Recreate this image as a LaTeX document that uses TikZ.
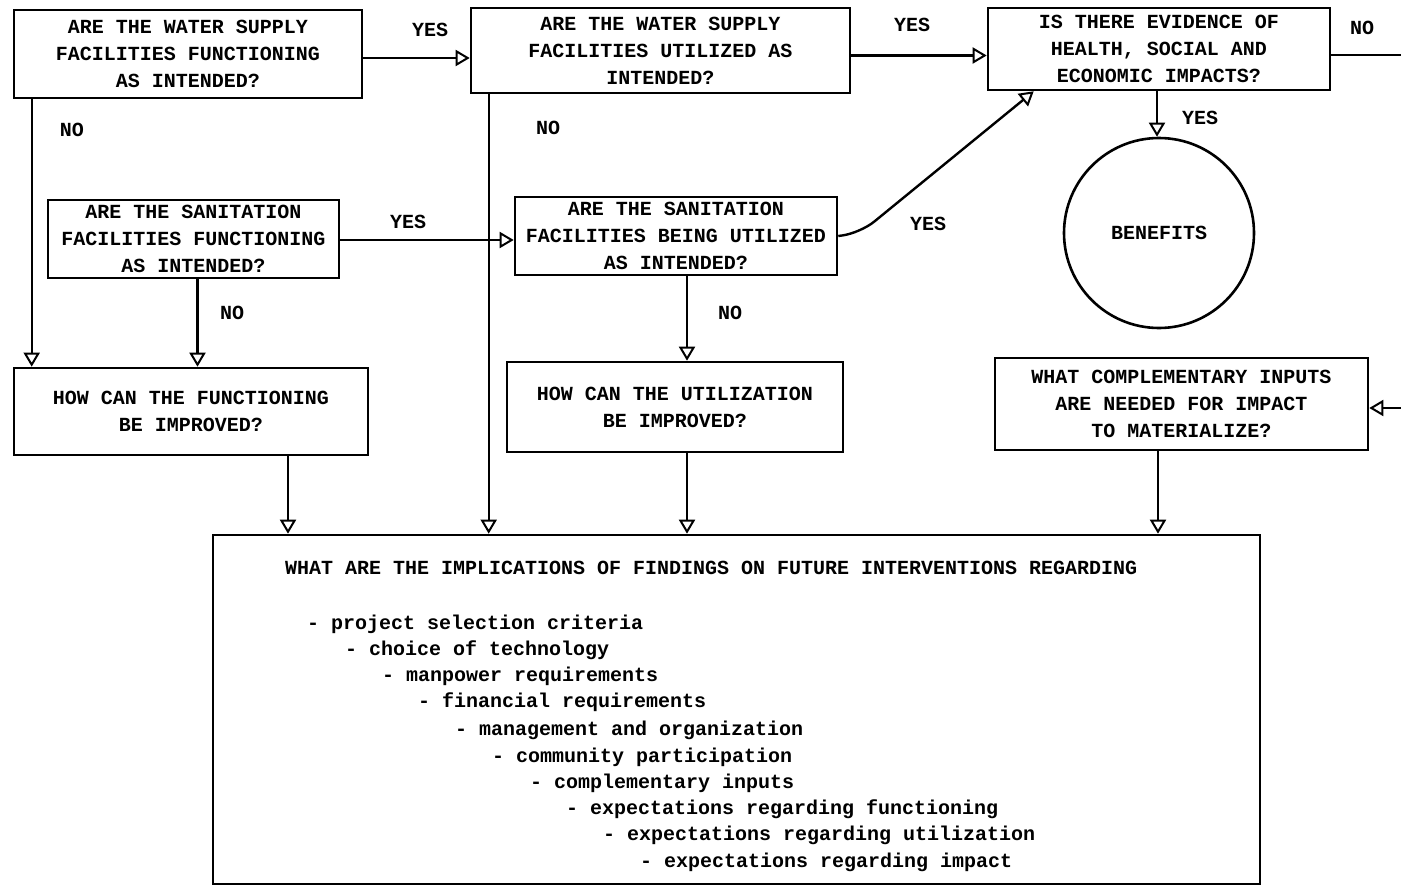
\documentclass[tikz,border=0pt]{standalone}
\usepackage{fontspec}
\setmonofont{Liberation Mono}
\usetikzlibrary{arrows.meta}
\begin{document}
\begin{tikzpicture}[x=1pt,y=-1pt,
  txt/.style={font=\fontsize{20}{27}\selectfont\ttfamily\bfseries},
  box/.style={txt, draw, line width=2.6pt, align=center, inner sep=0pt},
  lbl/.style={txt},
  item/.style={font=\fontsize{20}{26}\selectfont\ttfamily\bfseries, anchor=base west, inner sep=0pt},
  conn/.style={line width=2.4pt, -{Triangle[open,length=14pt,width=16pt,line width=2pt]}},
  plain/.style={line width=2.4pt}
]
\useasboundingbox (0,0) rectangle (1401,886);
\fill[white] (0,0) rectangle (1401,886);

% boxes
\node[box, minimum width=348pt, minimum height=88pt] (A) at (188,54)
  {ARE THE WATER SUPPLY\\FACILITIES FUNCTIONING\\AS INTENDED?};
\node[box, minimum width=379pt, minimum height=85pt] (B) at (660.5,50.5)
  {ARE THE WATER SUPPLY\\FACILITIES UTILIZED AS\\INTENDED?};
\node[box, minimum width=342pt, minimum height=82pt] (C) at (1159,49)
  {IS THERE EVIDENCE OF\\HEALTH, SOCIAL AND\\ECONOMIC IMPACTS?};
\node[box, minimum width=291pt, minimum height=78pt] (D) at (193.5,239)
  {ARE THE SANITATION\\FACILITIES FUNCTIONING\\AS INTENDED?};
\node[box, minimum width=322pt, minimum height=78pt] (E) at (676,236)
  {ARE THE SANITATION\\FACILITIES BEING UTILIZED\\AS INTENDED?};
\node[box, circle, minimum size=190pt] (ben) at (1159,233) {BENEFITS};
\node[box, minimum width=354pt, minimum height=87pt] (F) at (191,411.5)
  {HOW CAN THE FUNCTIONING\\BE IMPROVED?};
\node[box, minimum width=336pt, minimum height=90pt] (G) at (675,407)
  {HOW CAN THE UTILIZATION\\BE IMPROVED?};
\node[box, minimum width=373pt, minimum height=92pt] (H) at (1181.5,404)
  {WHAT COMPLEMENTARY INPUTS\\ARE NEEDED FOR IMPACT\\TO MATERIALIZE?};
\node[box, minimum width=1047pt, minimum height=349pt] (I) at (736.5,709.5) {};

% text in the big box
\node[item] (h0) at (285,574) {WHAT ARE THE IMPLICATIONS OF FINDINGS ON FUTURE INTERVENTIONS REGARDING};
\node[item] (i1) at (307,629) {- project selection criteria};
\node[item] (i2) at (345,655) {- choice of technology};
\node[item] (i3) at (382,681) {- manpower requirements};
\node[item] (i4) at (418,707) {- financial requirements};
\node[item] (i5) at (455,735) {- management and organization};
\node[item] (i6) at (492,762) {- community participation};
\node[item] (i7) at (530,788) {- complementary inputs};
\node[item] (i8) at (566,814) {- expectations regarding functioning};
\node[item] (i9) at (603,840) {- expectations regarding utilization};
\node[item] (i10) at (640,867) {- expectations regarding impact};

% free ends at the right edge
\coordinate (cR) at (1401,55);
\coordinate (hR) at (1401,408);

% connectors
\draw[conn] ([yshift=-4pt]A.east) -- ([yshift=-4pt]A.east -| B.west);
\draw[conn] ([yshift=-5pt]B.east) -- ([yshift=-5pt]B.east -| C.west);
\draw[plain] ([yshift=-6pt]C.east) -- (cR);
\draw[conn] (hR) -- (hR -| H.east);
\draw[conn] ([xshift=-2pt]C.south) -- ([xshift=-2pt]ben.north);
\draw[conn] ([xshift=19pt]A.south west) -- ([xshift=19pt]A.south west |- F.north);
\draw[conn] ([xshift=19pt]B.south west) -- ([xshift=19pt]B.south west |- I.north);
\draw[conn] ([yshift=-1pt]D.east) -- ([yshift=-1pt]D.east -| E.west);
\draw[conn] ([xshift=4pt]D.south) -- ([xshift=4pt]D.south |- F.north);
\draw[conn, rounded corners=18pt] (E.east) -- ++(22,-3) -- ([xshift=47pt]C.south west);
\draw[conn] ([xshift=11pt]E.south) -- ([xshift=11pt]E.south |- G.north);
\draw[conn] ([xshift=97pt]F.south) -- ([xshift=97pt]F.south |- I.north);
\draw[conn] ([xshift=12pt]G.south) -- ([xshift=12pt]G.south |- I.north);
\draw[conn] ([xshift=-23.5pt]H.south) -- ([xshift=-23.5pt]H.south |- I.north);

% labels
\node[lbl] (y1) at (430,30) {YES};
\node[lbl] (y2) at (912,25) {YES};
\node[lbl] (n1) at (1362,28) {NO};
\node[lbl] (y3) at (1200,118) {YES};
\node[lbl] (n2) at (72,130) {NO};
\node[lbl] (n3) at (548,128) {NO};
\node[lbl] (y4) at (408,222) {YES};
\node[lbl] (n4) at (232,313) {NO};
\node[lbl] (y5) at (928,224) {YES};
\node[lbl] (n5) at (730,313) {NO};
\end{tikzpicture}
\end{document}
